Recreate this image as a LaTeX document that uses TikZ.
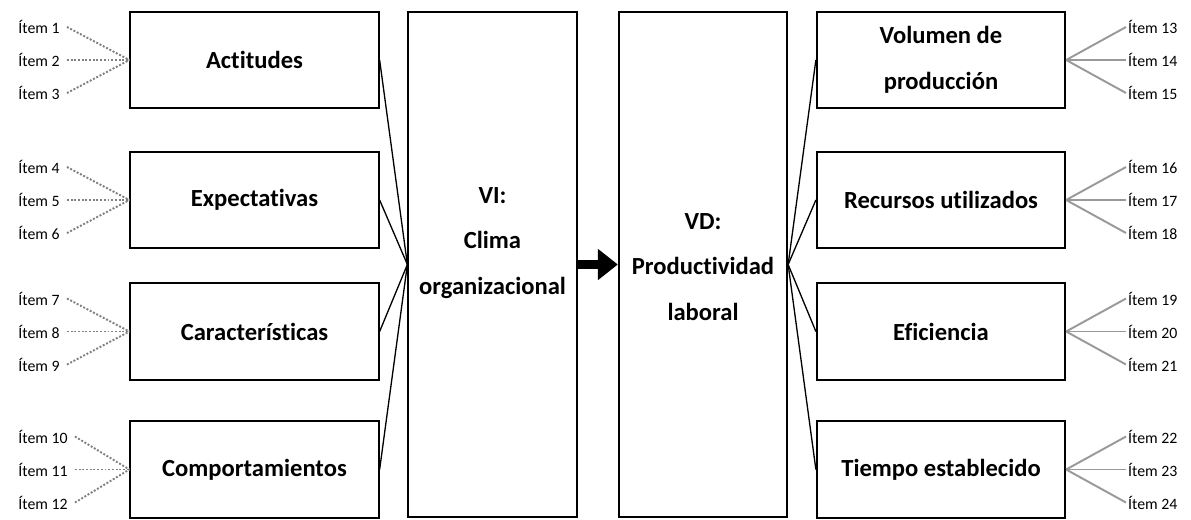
\documentclass[tikz,border=0pt]{standalone}
\usepackage{fontspec}
\setmainfont{Carlito}[Ligatures=CommonOff]
\usetikzlibrary{arrows.meta,positioning,calc}

\begin{document}
\begin{tikzpicture}[
  dim/.style={draw,line width=1pt,align=center,minimum width=4.97cm,minimum height=1.93cm,
    font=\fontsize{14}{26}\selectfont\bfseries},
  var/.style={draw,line width=1pt,minimum width=3.37cm,minimum height=10.1cm},
  vartext/.style={align=center,font=\fontsize{14}{26}\selectfont\bfseries},
  item/.style={font=\fontsize{9}{10}\selectfont,inner ysep=1pt},
  tie/.style={line width=0.75pt},
  leftitem/.style={densely dotted,gray,line width=1.1pt},
  rightitem/.style={gray!80,line width=1.1pt},
  bigarrow/.style={-{Triangle[length=4mm,width=6mm]},line width=5pt}
]
  \useasboundingbox (0,0) rectangle (23.82,-10.38);

  \node[var] (vi) at (9.85,-5.29) {};
  \node[vartext] (vilabel) at (9.85,-4.86) {VI:\\Clima\\organizacional};
  \node[var] (vd) at (14.06,-5.29) {};
  \node[vartext] (vdlabel) at (14.06,-5.34) {VD:\\Productividad\\laboral};
  \draw[bigarrow] (vi.east) -- (vd.west);

  % dimensiones de la VI
  \node[dim] (act) at (5.09,-1.2) {Actitudes};
  \node[dim] (exp) at (5.09,-4.0) {Expectativas};
  \node[dim] (car) at (5.09,-6.63) {Características};
  \node[dim] (com) at (5.09,-9.39) {Comportamientos};

  % dimensiones de la VD
  \node[dim] (vol) at (18.82,-1.2) {Volumen de\\producción};
  \node[dim] (rec) at (18.82,-4.0) {Recursos utilizados};
  \node[dim] (efi) at (18.82,-6.63) {Eficiencia};
  \node[dim] (tie) at (18.82,-9.39) {Tiempo establecido};

  \foreach \bx in {act,exp,car,com}
    \draw[tie] (\bx.east) -- (vi.west);
  \foreach \bx in {vol,rec,efi,tie}
    \draw[tie] (vd.east) -- (\bx.west);

  % items
  \foreach \bx/\first/\by in {act/1/-1.2,exp/4/-4.0,car/7/-6.63,com/10/-9.39}{
    \foreach \dy [count=\j from 0] in {0.66,0,-0.66}{
      \pgfmathtruncatemacro{\num}{\first+\j}
      \node[item,anchor=west,inner xsep=4pt] (it\num) at (0.22,{\by+\dy}) {Ítem \num};
      \draw[leftitem] (it\num.east) -- (\bx.west);
    }
  }
  \foreach \bx/\first/\by in {vol/13/-1.2,rec/16/-4.0,efi/19/-6.63,tie/22/-9.39}{
    \foreach \dy [count=\j from 0] in {0.66,0,-0.66}{
      \pgfmathtruncatemacro{\num}{\first+\j}
      \node[item,anchor=west,inner xsep=1pt] (it\num) at (22.52,{\by+\dy}) {Ítem \num};
      \draw[rightitem] (\bx.east) -- (it\num.west);
    }
  }
\end{tikzpicture}
\end{document}
